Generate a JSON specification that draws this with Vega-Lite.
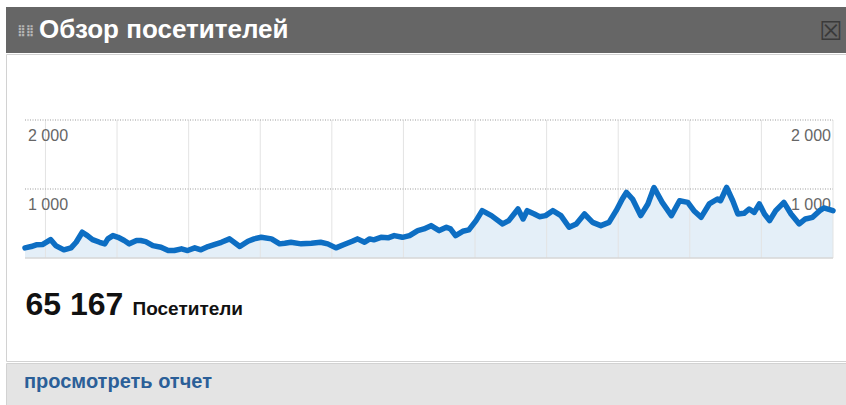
{
  "$schema": "https://vega.github.io/schema/vega-lite/v6.json",
  "background": "white",
  "padding": {"left": 5, "top": 7, "right": 0, "bottom": 0},
  "spacing": 0,
  "config": {
    "view": {"stroke": null},
    "font": "Liberation Sans",
    "axis": {"minExtent": 0},
    "title": {"frame": "group", "anchor": "start", "orient": "top", "baseline": "alphabetic"}
  },
  "datasets": {
    "visits": [
      {"d": 0.0, "v": 147}, {"d": 0.6, "v": 166}, {"d": 1.1, "v": 191}, {"d": 1.7, "v": 195},
      {"d": 2.5, "v": 267}, {"d": 3.0, "v": 180}, {"d": 3.8, "v": 118}, {"d": 4.5, "v": 147},
      {"d": 5.0, "v": 228}, {"d": 5.6, "v": 373}, {"d": 6.1, "v": 325}, {"d": 6.6, "v": 267},
      {"d": 7.3, "v": 228}, {"d": 7.8, "v": 205}, {"d": 8.1, "v": 277}, {"d": 8.6, "v": 325},
      {"d": 9.1, "v": 300}, {"d": 9.7, "v": 253}, {"d": 10.2, "v": 205}, {"d": 10.9, "v": 253},
      {"d": 11.3, "v": 253}, {"d": 11.8, "v": 238}, {"d": 12.5, "v": 180}, {"d": 13.3, "v": 156},
      {"d": 14.0, "v": 108}, {"d": 14.6, "v": 108}, {"d": 15.3, "v": 133}, {"d": 15.9, "v": 108},
      {"d": 16.6, "v": 147}, {"d": 17.2, "v": 118}, {"d": 17.9, "v": 166}, {"d": 18.5, "v": 195},
      {"d": 19.2, "v": 228}, {"d": 20.0, "v": 277}, {"d": 21.0, "v": 166}, {"d": 21.8, "v": 243},
      {"d": 22.4, "v": 277}, {"d": 23.1, "v": 300}, {"d": 24.1, "v": 277}, {"d": 24.9, "v": 205},
      {"d": 25.4, "v": 214}, {"d": 26.0, "v": 228}, {"d": 27.0, "v": 205}, {"d": 28.0, "v": 214},
      {"d": 28.9, "v": 228}, {"d": 29.6, "v": 205}, {"d": 30.4, "v": 147}, {"d": 31.2, "v": 195},
      {"d": 32.0, "v": 243}, {"d": 32.5, "v": 277}, {"d": 33.2, "v": 228}, {"d": 33.7, "v": 277},
      {"d": 34.1, "v": 263}, {"d": 34.8, "v": 300}, {"d": 35.5, "v": 292}, {"d": 36.1, "v": 325},
      {"d": 36.9, "v": 300}, {"d": 37.6, "v": 325}, {"d": 38.4, "v": 397}, {"d": 39.0, "v": 422},
      {"d": 39.7, "v": 469}, {"d": 40.5, "v": 397}, {"d": 41.2, "v": 445}, {"d": 41.6, "v": 422},
      {"d": 42.1, "v": 325}, {"d": 42.8, "v": 387}, {"d": 43.4, "v": 407}, {"d": 44.1, "v": 542},
      {"d": 44.7, "v": 686}, {"d": 45.6, "v": 614}, {"d": 46.7, "v": 494}, {"d": 47.3, "v": 542},
      {"d": 48.2, "v": 710}, {"d": 48.7, "v": 566}, {"d": 49.1, "v": 686}, {"d": 49.8, "v": 638},
      {"d": 50.3, "v": 599}, {"d": 50.9, "v": 614}, {"d": 51.6, "v": 686}, {"d": 52.4, "v": 614},
      {"d": 53.2, "v": 445}, {"d": 53.9, "v": 494}, {"d": 54.7, "v": 638}, {"d": 55.5, "v": 517},
      {"d": 56.3, "v": 469}, {"d": 57.1, "v": 517}, {"d": 57.8, "v": 686}, {"d": 58.4, "v": 855},
      {"d": 58.8, "v": 950}, {"d": 59.4, "v": 855}, {"d": 60.2, "v": 614}, {"d": 60.9, "v": 783},
      {"d": 61.5, "v": 1022}, {"d": 62.3, "v": 806}, {"d": 63.2, "v": 614}, {"d": 64.0, "v": 830},
      {"d": 64.8, "v": 806}, {"d": 65.4, "v": 686}, {"d": 66.1, "v": 589}, {"d": 66.9, "v": 783},
      {"d": 67.7, "v": 855}, {"d": 68.0, "v": 830}, {"d": 68.6, "v": 1022}, {"d": 69.2, "v": 830},
      {"d": 69.7, "v": 638}, {"d": 70.3, "v": 647}, {"d": 70.8, "v": 710}, {"d": 71.3, "v": 661},
      {"d": 71.8, "v": 783}, {"d": 72.3, "v": 638}, {"d": 72.8, "v": 542}, {"d": 73.4, "v": 686},
      {"d": 74.2, "v": 806}, {"d": 74.9, "v": 638}, {"d": 75.7, "v": 494}, {"d": 76.3, "v": 566},
      {"d": 77.0, "v": 589}, {"d": 77.7, "v": 686}, {"d": 78.1, "v": 725}, {"d": 79.0, "v": 686}
    ],
    "weeks": [
      {"day": 2}, {"day": 9}, {"day": 16}, {"day": 23}, {"day": 30}, {"day": 37},
      {"day": 44}, {"day": 51}, {"day": 58}, {"day": 65}, {"day": 72}, {"day": 79}
    ],
    "levels": [
      {"v": 1000, "lab": "1 000"},
      {"v": 2000, "lab": "2 000"}
    ]
  },
  "vconcat": [
    {
      "hconcat": [
        {
          "width": 33, "height": 46,
          "view": {"fill": "#666666", "stroke": null},
          "title": {"text": "⣿⣿", "font": "DejaVu Sans", "fontSize": 11, "color": "#b5b5b5", "offset": -29, "dx": 11},
          "data": {"values": [{"k": 0}]},
          "mark": {"type": "text", "text": ""}
        },
        {
          "width": 775, "height": 46,
          "view": {"fill": "#666666", "stroke": null},
          "title": {"text": "Обзор посетителей", "fontSize": 26, "fontWeight": "bold", "color": "#ffffff", "offset": -36, "dx": 0},
          "data": {"values": [{"k": 0}]},
          "mark": {"type": "text", "text": ""}
        },
        {
          "width": 33, "height": 46,
          "view": {"fill": "#666666", "stroke": null},
          "title": {"text": "☒", "font": "DejaVu Sans", "fontSize": 26, "color": "#3a3a3a", "offset": -38, "dx": 5},
          "data": {"values": [{"k": 0}]},
          "mark": {"type": "text", "text": ""}
        }
      ],
      "spacing": 0
    },
    {
      "width": 841, "height": 307,
      "view": {"fill": "#ffffff", "stroke": "#d2d2d2"},
      "layer": [
        {
          "data": {"name": "visits"},
          "mark": {"type": "area", "color": "#e4eff8", "opacity": 1},
          "encoding": {
            "x": {"field": "d", "type": "quantitative",
                  "scale": {"domain": [0, 79], "range": [19, 827], "nice": false, "zero": false},
                  "axis": {"title": "65 167", "labels": false, "ticks": false, "domain": false, "grid": false,
                           "titleX": 19, "titleY": -47, "titleAlign": "left", "titleBaseline": "alphabetic",
                           "titleFontSize": 32, "titleFontWeight": "bold", "titleColor": "#111111", "titleFont": "Liberation Sans"}},
            "y": {"field": "v", "type": "quantitative",
                  "scale": {"domain": [0, 2000], "range": [204, 66], "nice": false, "zero": true},
                  "axis": {"title": "Посетители", "labels": false, "ticks": false, "domain": false, "grid": false,
                           "titleAngle": 0, "titleX": 126, "titleY": 260, "titleAlign": "left", "titleBaseline": "alphabetic",
                           "titleFontSize": 19, "titleFontWeight": "bold", "titleColor": "#111111", "titleFont": "Liberation Sans"}}
          }
        },
        {
          "data": {"name": "weeks"},
          "mark": {"type": "rule", "color": "#e3e3e3", "strokeWidth": 1},
          "encoding": {
            "x": {"field": "day", "type": "quantitative"},
            "y": {"datum": 0},
            "y2": {"datum": 2000}
          }
        },
        {
          "data": {"name": "levels"},
          "mark": {"type": "rule", "color": "#bdbdbd", "strokeWidth": 1.5, "strokeDash": [1, 1.5]},
          "encoding": {
            "x": {"datum": 0},
            "x2": {"datum": 79},
            "y": {"field": "v", "type": "quantitative"}
          }
        },
        {
          "data": {"name": "levels"},
          "mark": {"type": "rule", "color": "#d6d6d6", "strokeWidth": 1},
          "encoding": {
            "x": {"datum": 0},
            "x2": {"datum": 79},
            "y": {"datum": 0}
          }
        },
        {
          "data": {"name": "levels"},
          "mark": {"type": "text", "align": "left", "baseline": "alphabetic", "dx": 3, "dy": 21, "fontSize": 16, "color": "#666666", "font": "Liberation Sans"},
          "encoding": {
            "x": {"datum": 0},
            "y": {"field": "v", "type": "quantitative"},
            "text": {"field": "lab"}
          }
        },
        {
          "data": {"name": "levels"},
          "mark": {"type": "text", "align": "right", "baseline": "alphabetic", "dx": -2, "dy": 21, "fontSize": 16, "color": "#666666", "font": "Liberation Sans"},
          "encoding": {
            "x": {"datum": 79},
            "y": {"field": "v", "type": "quantitative"},
            "text": {"field": "lab"}
          }
        },
        {
          "data": {"name": "visits"},
          "mark": {"type": "line", "color": "#0d6ec3", "strokeWidth": 5.5, "strokeJoin": "round", "strokeCap": "round"},
          "encoding": {
            "x": {"field": "d", "type": "quantitative"},
            "y": {"field": "v", "type": "quantitative"}
          }
        }
      ]
    },
    {
      "width": 841, "height": 45,
      "view": {"fill": "#e4e4e4", "stroke": "#d2d2d2"},
      "title": {"text": "просмотреть отчет", "fontSize": 20, "fontWeight": "bold", "color": "#2b5f98", "offset": -29, "dx": 18},
      "data": {"values": [{"k": 0}]},
      "mark": {"type": "text", "text": ""}
    }
  ]
}
